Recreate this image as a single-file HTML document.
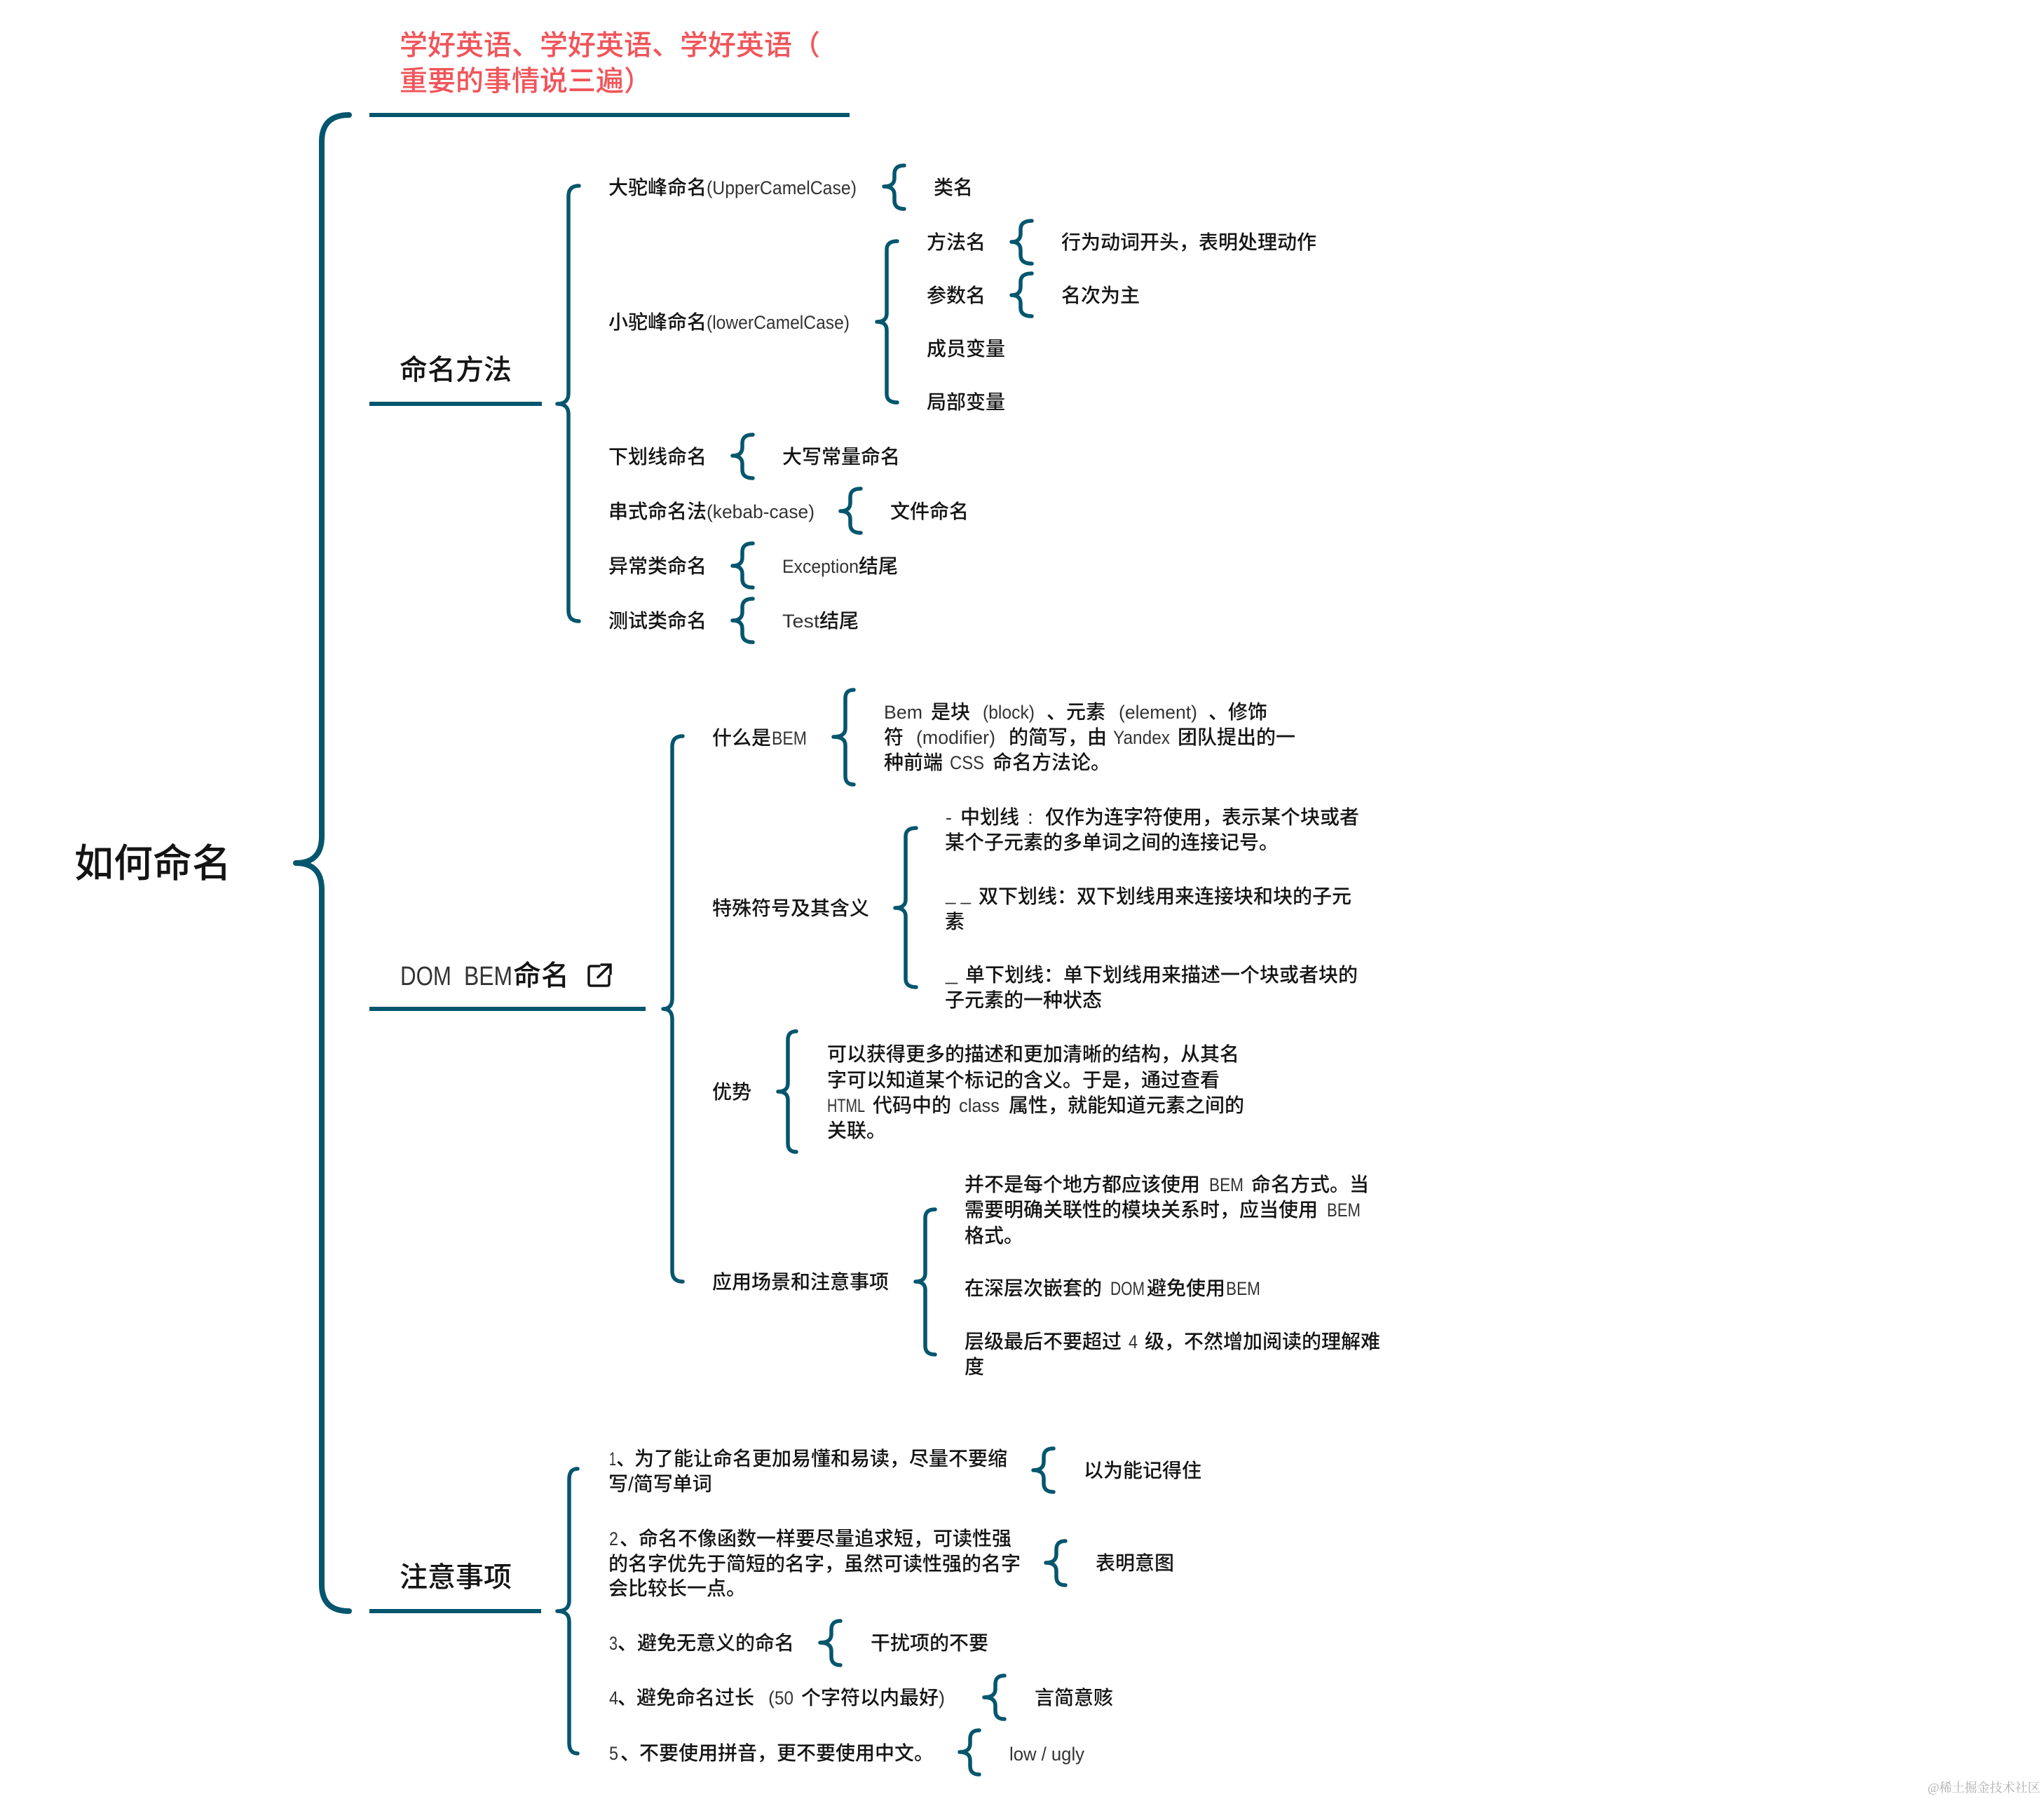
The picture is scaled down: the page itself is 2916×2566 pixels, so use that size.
<!DOCTYPE html>
<html lang="zh-CN">
<head>
<meta charset="utf-8">
<title>如何命名</title>
<style>
html,body{margin:0;padding:0;background:#fff;width:2916px;height:2566px;overflow:hidden}
svg{display:block}
text{font-family:"Liberation Sans","Noto Sans CJK SC",sans-serif;fill:#141414;white-space:pre;font-weight:500}
.t{font-size:28px}
.h{font-size:40px}
.l{font-size:27px;fill:#333;font-weight:400}
.b{fill:none;stroke:#04566e;stroke-width:5.5;stroke-linecap:round;stroke-linejoin:round}
.r{fill:#04566e}
</style>
</head>
<body>
<svg width="2916" height="2566" viewBox="0 0 2916 2566" xmlns="http://www.w3.org/2000/svg">
<rect width="2916" height="2566" fill="#fff"/>

<!-- root -->
<text x="106" y="1251" style="font-size:56px">如何命名</text>
<path class="b" style="stroke-width:8" d="M498 164Q459 164 459 202L459 1193Q459 1231 422 1231Q459 1231 459 1269L459 2260Q459 2298 498 2298"/>

<!-- red heading -->
<text class="h" x="570" y="78" style="fill:#f0555a">学好英语、学好英语、学好英语（</text>
<text class="h" x="570" y="129" style="fill:#f0555a">重要的事情说三遍）</text>
<rect class="r" x="527" y="161" width="685" height="6"/>

<!-- 命名方法 -->
<text class="h" x="570" y="541">命名方法</text>
<rect class="r" x="527" y="573" width="246" height="6"/>
<path class="b" d="M826 265Q811 265 811 280L811 561Q811 576 795 576Q811 576 811 591L811 871Q811 886 826 886"/>

<text class="t" x="868" y="277">大驼峰命名</text>
<text class="l" x="1008" y="277" textLength="214" lengthAdjust="spacingAndGlyphs">(UpperCamelCase)</text>
<path class="b" d="M1290 236Q1276 236 1276 248L1276 254Q1276 266 1261 266Q1276 266 1276 278L1276 286Q1276 298 1290 298"/>
<text class="t" x="1332" y="277">类名</text>

<text class="t" x="868" y="469">小驼峰命名</text>
<text class="l" x="1008" y="469" textLength="204" lengthAdjust="spacingAndGlyphs">(lowerCamelCase)</text>
<path class="b" d="M1280 344Q1265 344 1265 356L1265 447Q1265 459 1251 459Q1265 459 1265 471L1265 562Q1265 574 1280 574"/>

<text class="t" x="1322" y="355">方法名</text>
<path class="b" d="M1472 315Q1456 315 1456 327L1456 333Q1456 345 1443 345Q1456 345 1456 357L1456 364Q1456 376 1472 376"/>
<text class="t" x="1514" y="355">行为动词开头，表明处理动作</text>

<text class="t" x="1322" y="431">参数名</text>
<path class="b" d="M1472 390Q1456 390 1456 402L1456 409Q1456 421 1443 421Q1456 421 1456 433L1456 439Q1456 451 1472 451"/>
<text class="t" x="1514" y="431">名次为主</text>

<text class="t" x="1322" y="507">成员变量</text>
<text class="t" x="1322" y="583">局部变量</text>

<text class="t" x="868" y="661">下划线命名</text>
<path class="b" d="M1074 620Q1059 620 1059 632L1059 638Q1059 650 1045 650Q1059 650 1059 662L1059 670Q1059 682 1074 682"/>
<text class="t" x="1116" y="661">大写常量命名</text>

<text class="t" x="868" y="739">串式命名法</text>
<text class="l" x="1008" y="739" textLength="154" lengthAdjust="spacingAndGlyphs">(kebab-case)</text>
<path class="b" d="M1228 697Q1213 697 1213 709L1213 717Q1213 729 1199 729Q1213 729 1213 741L1213 748Q1213 760 1228 760"/>
<text class="t" x="1270" y="739">文件命名</text>

<text class="t" x="868" y="817">异常类命名</text>
<path class="b" d="M1074 775Q1059 775 1059 787L1059 795Q1059 807 1045 807Q1059 807 1059 819L1059 826Q1059 838 1074 838"/>
<text class="l" x="1116" y="817" textLength="109" lengthAdjust="spacingAndGlyphs">Exception</text>
<text class="t" x="1225" y="817">结尾</text>

<text class="t" x="868" y="895">测试类命名</text>
<path class="b" d="M1074 854Q1059 854 1059 866L1059 873Q1059 885 1045 885Q1059 885 1059 897L1059 904Q1059 916 1074 916"/>
<text class="l" x="1116" y="895" textLength="53" lengthAdjust="spacingAndGlyphs">Test</text>
<text class="t" x="1169" y="895">结尾</text>

<!-- DOM BEM -->
<text class="l" x="571" y="1405" style="font-size:38px" textLength="73" lengthAdjust="spacingAndGlyphs">DOM</text>
<text class="l" x="662" y="1405" style="font-size:38px" textLength="69" lengthAdjust="spacingAndGlyphs">BEM</text>
<text class="h" x="732" y="1405">命名</text>
<path d="M855 1378H843Q840 1378 840 1381V1403Q840 1406 843 1406H866Q869 1406 869 1403V1392" fill="none" stroke="#141414" stroke-width="3.5" stroke-linecap="round"/>
<path d="M853 1394L870 1377M858 1376H871V1389" fill="none" stroke="#141414" stroke-width="3.5" stroke-linecap="round"/>
<rect class="r" x="527" y="1436" width="394" height="6"/>
<path class="b" d="M974 1050Q959 1050 959 1065L959 1424Q959 1439 946 1439Q959 1439 959 1454L959 1813Q959 1828 974 1828"/>

<text class="t" x="1016" y="1062">什么是</text>
<text class="l" x="1101" y="1062" textLength="50" lengthAdjust="spacingAndGlyphs">BEM</text>
<path class="b" d="M1218 984Q1206 984 1206 996L1206 1039Q1206 1051 1189 1051Q1206 1051 1206 1063L1206 1107Q1206 1119 1218 1119"/>

<text class="l" x="1261" y="1025" textLength="55" lengthAdjust="spacingAndGlyphs">Bem</text>
<text class="t" x="1328" y="1025">是块</text>
<text class="l" x="1402" y="1025" textLength="74" lengthAdjust="spacingAndGlyphs">(block)</text>
<text class="t" x="1493" y="1025">、元素</text>
<text class="l" x="1596" y="1025" textLength="112" lengthAdjust="spacingAndGlyphs">(element)</text>
<text class="t" x="1724" y="1025">、修饰</text>

<text class="t" x="1261" y="1061">符</text>
<text class="l" x="1307" y="1061" textLength="113" lengthAdjust="spacingAndGlyphs">(modifier)</text>
<text class="t" x="1439" y="1061">的简写，由</text>
<text class="l" x="1588" y="1061" textLength="81" lengthAdjust="spacingAndGlyphs">Yandex</text>
<text class="t" x="1680" y="1061">团队提出的一</text>

<text class="t" x="1261" y="1097">种前端</text>
<text class="l" x="1355" y="1097" textLength="49" lengthAdjust="spacingAndGlyphs">CSS</text>
<text class="t" x="1416" y="1097">命名方法论。</text>

<text class="t" x="1016" y="1305">特殊符号及其含义</text>
<path class="b" d="M1307 1181Q1292 1181 1292 1193L1292 1283Q1292 1295 1277 1295Q1292 1295 1292 1307L1292 1396Q1292 1408 1307 1408"/>

<text class="l" x="1349" y="1175">-</text>
<text class="t" x="1370" y="1175">中划线</text>
<text class="t" x="1466" y="1175">:</text>
<text class="t" x="1491" y="1175">仅作为连字符使用，表示某个块或者</text>
<text class="t" x="1348" y="1211">某个子元素的多单词之间的连接记号。</text>

<text class="l" x="1349" y="1284" textLength="36" lengthAdjust="spacingAndGlyphs">_ _</text>
<text class="t" x="1396" y="1288">双下划线：双下划线用来连接块和块的子元</text>
<text class="t" x="1348" y="1324">素</text>

<text class="l" x="1349" y="1398" textLength="17" lengthAdjust="spacingAndGlyphs">_</text>
<text class="t" x="1377" y="1400">单下划线：单下划线用来描述一个块或者块的</text>
<text class="t" x="1348" y="1436">子元素的一种状态</text>

<text class="t" x="1016" y="1567">优势</text>
<path class="b" d="M1136 1471Q1124 1471 1124 1483L1124 1545Q1124 1557 1110 1557Q1124 1557 1124 1569L1124 1631Q1124 1643 1136 1643"/>

<text class="t" x="1180" y="1513">可以获得更多的描述和更加清晰的结构，从其名</text>
<text class="t" x="1180" y="1550">字可以知道某个标记的含义。于是，通过查看</text>
<text class="l" x="1180" y="1586" textLength="54" lengthAdjust="spacingAndGlyphs">HTML</text>
<text class="t" x="1245" y="1586">代码中的</text>
<text class="l" x="1368" y="1586" textLength="58" lengthAdjust="spacingAndGlyphs">class</text>
<text class="t" x="1439" y="1586">属性，就能知道元素之间的</text>
<text class="t" x="1180" y="1622">关联。</text>

<text class="t" x="1016" y="1838">应用场景和注意事项</text>
<path class="b" d="M1334 1725Q1320 1725 1320 1737L1320 1816Q1320 1828 1306 1828Q1320 1828 1320 1840L1320 1920Q1320 1932 1334 1932"/>

<text class="t" x="1376" y="1699">并不是每个地方都应该使用</text>
<text class="l" x="1725" y="1699" textLength="49" lengthAdjust="spacingAndGlyphs">BEM</text>
<text class="t" x="1785" y="1699">命名方式。当</text>
<text class="t" x="1376" y="1735">需要明确关联性的模块关系时，应当使用</text>
<text class="l" x="1893" y="1735" textLength="48" lengthAdjust="spacingAndGlyphs">BEM</text>
<text class="t" x="1376" y="1772">格式。</text>

<text class="t" x="1376" y="1847">在深层次嵌套的</text>
<text class="l" x="1584" y="1847" textLength="49" lengthAdjust="spacingAndGlyphs">DOM</text>
<text class="t" x="1636" y="1847">避免使用</text>
<text class="l" x="1749" y="1847" textLength="49" lengthAdjust="spacingAndGlyphs">BEM</text>

<text class="t" x="1376" y="1923">层级最后不要超过</text>
<text class="l" x="1610" y="1923" textLength="13" lengthAdjust="spacingAndGlyphs">4</text>
<text class="t" x="1633" y="1923">级，不然增加阅读的理解难</text>
<text class="t" x="1376" y="1959">度</text>

<!-- 注意事项 -->
<text class="h" x="570" y="2263">注意事项</text>
<rect class="r" x="527" y="2295" width="245" height="6"/>
<path class="b" d="M824 2095Q812 2095 812 2110L812 2283Q812 2298 795 2298Q812 2298 812 2313L812 2486Q812 2501 824 2501"/>

<text class="l" x="869" y="2090" textLength="10" lengthAdjust="spacingAndGlyphs">1</text>
<text class="t" x="879" y="2090">、</text>
<text class="t" x="905" y="2090">为了能让命名更加易懂和易读，尽量不要缩</text>
<text class="t" x="868" y="2126">写/简写单词</text>
<path class="b" d="M1503 2066Q1489 2066 1489 2078L1489 2085Q1489 2097 1474 2097Q1489 2097 1489 2109L1489 2116Q1489 2128 1503 2128"/>
<text class="t" x="1546" y="2107">以为能记得住</text>

<text class="l" x="869" y="2204" textLength="13" lengthAdjust="spacingAndGlyphs">2</text>
<text class="t" x="884" y="2204">、</text>
<text class="t" x="911" y="2204">命名不像函数一样要尽量追求短，可读性强</text>
<text class="t" x="868" y="2240">的名字优先于简短的名字，虽然可读性强的名字</text>
<text class="t" x="868" y="2275">会比较长一点。</text>
<path class="b" d="M1520 2198Q1507 2198 1507 2210L1507 2217Q1507 2229 1492 2229Q1507 2229 1507 2241L1507 2249Q1507 2261 1520 2261"/>
<text class="t" x="1563" y="2239">表明意图</text>

<text class="l" x="869" y="2353" textLength="12" lengthAdjust="spacingAndGlyphs">3</text>
<text class="t" x="881" y="2353">、</text>
<text class="t" x="909" y="2353">避免无意义的命名</text>
<path class="b" d="M1199 2312Q1186 2312 1186 2324L1186 2331Q1186 2343 1170 2343Q1186 2343 1186 2355L1186 2363Q1186 2375 1199 2375"/>
<text class="t" x="1242" y="2353">干扰项的不要</text>

<text class="l" x="869" y="2431" textLength="13" lengthAdjust="spacingAndGlyphs">4</text>
<text class="t" x="881" y="2431">、</text>
<text class="t" x="908" y="2431">避免命名过长</text>
<text class="l" x="1096" y="2431">(</text>
<text class="l" x="1105" y="2431" textLength="27" lengthAdjust="spacingAndGlyphs">50</text>
<text class="t" x="1143" y="2431">个字符以内最好</text>
<text class="l" x="1339" y="2431">)</text>
<path class="b" d="M1433 2390Q1420 2390 1420 2402L1420 2409Q1420 2421 1404 2421Q1420 2421 1420 2433L1420 2440Q1420 2452 1433 2452"/>
<text class="t" x="1476" y="2431">言简意赅</text>

<text class="l" x="869" y="2510" textLength="13" lengthAdjust="spacingAndGlyphs">5</text>
<text class="t" x="885" y="2510">、</text>
<text class="t" x="912" y="2510">不要使用拼音，更不要使用中文。</text>
<path class="b" d="M1397 2468Q1384 2468 1384 2480L1384 2487Q1384 2499 1369 2499Q1384 2499 1384 2511L1384 2519Q1384 2531 1397 2531"/>
<text class="l" x="1440" y="2511" textLength="107" lengthAdjust="spacingAndGlyphs">low / ugly</text>

<!-- watermark -->
<text x="2750" y="2556" style="font-size:18px;fill:#b0b0b0;font-weight:400;font-family:'Liberation Serif','Noto Serif CJK SC',serif">@稀土掘金技术社区</text>
</svg>
</body>
</html>
